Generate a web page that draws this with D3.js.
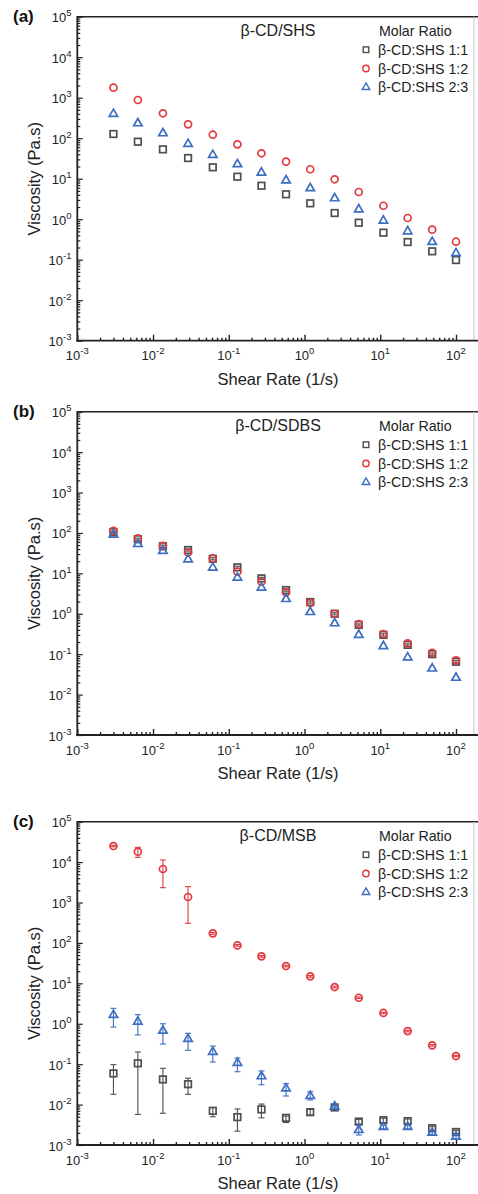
<!DOCTYPE html>
<html>
<head>
<meta charset="utf-8">
<script src="https://cdn.jsdelivr.net/npm/d3@7"></script>
<style>
  html, body { margin: 0; padding: 0; background: #fff; }
  svg { display: block; font-family: "Liberation Sans", Arial, sans-serif; }
</style>
</head>
<body>
<svg id="chart" width="478" height="1194"></svg>
<script>
// Shear rates (1/s) shared by every sweep
const shearRate = [0.003, 0.0063, 0.0135, 0.029, 0.0615, 0.13, 0.27, 0.57, 1.19, 2.5, 5.2, 11, 23, 48.5, 100];

const seriesNames = ["β-CD:SHS 1:1", "β-CD:SHS 1:2", "β-CD:SHS 2:3"];
const panelTitles = ["β-CD/SHS", "β-CD/SDBS", "β-CD/MSB"];
const panelLetters = ["(a)", "(b)", "(c)"];
const xTickExponents = [-3, -2, -1, 0, 1, 2];
const yTickExponents = [-3, -2, -1, 0, 1, 2, 3, 4, 5];

// (a) β-CD/SHS viscosity (Pa.s)
const visA11 = [127, 82, 53, 32.4, 19.1, 11.2, 6.7, 4.12, 2.47, 1.42, 0.82, 0.465, 0.273, 0.161, 0.098];
const visA12 = [1766, 877, 412, 220, 122, 70.6, 42.4, 26.3, 17.1, 9.67, 4.7, 2.15, 1.07, 0.551, 0.278];
const visA23 = [396, 233, 132, 72, 38.5, 22.7, 14.1, 9.1, 5.8, 3.28, 1.75, 0.92, 0.5, 0.273, 0.144];

// (b) β-CD/SDBS viscosity (Pa.s)
const visB11 = [105, 70, 47, 37.8, 23, 14.1, 7.5, 3.86, 1.95, 1.0, 0.53, 0.3, 0.17, 0.1, 0.065];
const visB11Lo = [99, 66, 44, 35.5, 21.6, 13.2, 7.0, 3.62, 1.83, 0.94, 0.5, 0.28, 0.16, 0.094, 0.061];
const visB11Hi = [111, 74, 50, 40, 24.4, 15, 8.0, 4.1, 2.07, 1.06, 0.56, 0.32, 0.18, 0.106, 0.069];
const visB12 = [113, 73, 48, 33, 23.5, 11, 6.2, 3.39, 1.85, 1.0, 0.556, 0.315, 0.185, 0.108, 0.07];
const visB23 = [90, 53, 36, 22, 13.8, 7.8, 4.4, 2.31, 1.1, 0.58, 0.3, 0.158, 0.083, 0.044, 0.026];

// (c) β-CD/MSB viscosity (Pa.s) with error bounds
const visC11 = [0.059, 0.105, 0.042, 0.032, 0.007, 0.0049, 0.0076, 0.0047, 0.0065, 0.0085, 0.0038, 0.0041, 0.0039, 0.0026, 0.0021];
const visC11Lo = [0.018, 0.0057, 0.0061, 0.018, 0.005, 0.0022, 0.0047, 0.0036, 0.0055, 0.0078, 0.0033, 0.0036, 0.0034, 0.0023, 0.0019];
const visC11Hi = [0.097, 0.2, 0.079, 0.045, 0.0085, 0.0078, 0.0103, 0.0052, 0.0076, 0.0092, 0.0043, 0.0046, 0.0044, 0.0029, 0.0023];
const visC12 = [25000, 18100, 6760, 1370, 173, 87, 46.6, 26.8, 14.9, 8.1, 4.4, 1.85, 0.66, 0.292, 0.159];
const visC12Lo = [24000, 13100, 2330, 306, 164, 83, 44.5, 25.6, 14.2, 7.7, 4.2, 1.77, 0.63, 0.28, 0.153];
const visC12Hi = [26000, 23300, 11300, 2470, 182, 91, 48.7, 28, 15.6, 8.5, 4.6, 1.93, 0.69, 0.304, 0.165];
const visC23 = [1.65, 1.13, 0.67, 0.42, 0.2, 0.107, 0.05, 0.025, 0.0163, 0.0089, 0.00234, 0.0028, 0.0028, 0.002, 0.0016];
const visC23Lo = [0.83, 0.53, 0.315, 0.22, 0.113, 0.065, 0.031, 0.0163, 0.013, 0.0082, 0.00177, 0.0025, 0.0025, 0.0018, 0.0014];
const visC23Hi = [2.41, 1.68, 1.0, 0.58, 0.28, 0.142, 0.068, 0.033, 0.0208, 0.0096, 0.0031, 0.0031, 0.0031, 0.0022, 0.0018];

const colors = ["#4f4f4f", "#e23a3f", "#3d6ec1"];
const shapes = ["square", "circle", "triangle"];

const panels = [
  { top: 16.7, bottom: 340.7, series: [
      { v: visA11 }, { v: visA12 }, { v: visA23 } ] },
  { top: 411.7, bottom: 735, series: [
      { v: visB11, lo: visB11Lo, hi: visB11Hi }, { v: visB12 }, { v: visB23 } ] },
  { top: 821.7, bottom: 1145, series: [
      { v: visC11, lo: visC11Lo, hi: visC11Hi },
      { v: visC12, lo: visC12Lo, hi: visC12Hi },
      { v: visC23, lo: visC23Lo, hi: visC23Hi } ] }
];

const svg = d3.select("#chart");
const left = 77.3, frameRight = 478, grayEdge = 474;
const x = d3.scaleLog().domain([1e-3, 1e2]).range([left, 456]);

function marker(g, shape, cx, cy, s, color, sw) {
  if (shape === "square") {
    g.append("rect").attr("x", cx - s / 2).attr("y", cy - s / 2)
      .attr("width", s).attr("height", s)
      .attr("fill", "none").attr("stroke", color).attr("stroke-width", sw);
  } else if (shape === "circle") {
    g.append("circle").attr("cx", cx).attr("cy", cy).attr("r", s / 2)
      .attr("fill", "none").attr("stroke", color).attr("stroke-width", sw);
  } else {
    const h = s * Math.sqrt(3) / 2;
    const p = d3.path();
    p.moveTo(cx, cy - h * 2 / 3);
    p.lineTo(cx + s / 2, cy + h / 3);
    p.lineTo(cx - s / 2, cy + h / 3);
    p.closePath();
    g.append("path").attr("d", p.toString())
      .attr("fill", "none").attr("stroke", color).attr("stroke-width", sw)
      .attr("stroke-linejoin", "miter");
  }
}

function powLabel(sel, exp) {
  sel.append("tspan").text("10");
  sel.append("tspan").attr("dy", -6).attr("font-size", 9.5).text(exp < 0 ? "-" + (-exp) : exp);
}

panels.forEach((pan, pi) => {
  const y = d3.scaleLog().domain([1e-3, 1e5]).range([pan.bottom, pan.top]);
  const g = svg.append("g");

  // frame: top line, faint right edge, bottom and left axes
  g.append("line").attr("x1", left).attr("x2", frameRight)
    .attr("y1", pan.top).attr("y2", pan.top)
    .attr("stroke", "#222").attr("stroke-width", 1.6);
  g.append("line").attr("x1", grayEdge).attr("x2", grayEdge)
    .attr("y1", pan.top).attr("y2", pan.bottom)
    .attr("stroke", "#c8c8c8").attr("stroke-width", 1);

  // x axis (ticks pointing inward)
  const xMinor = [];
  xTickExponents.slice(0, -1).forEach(e => { for (let k = 2; k <= 9; k++) xMinor.push(k * Math.pow(10, e)); });
  const xAxisMinor = d3.axisTop(x).tickValues(xMinor).tickSize(3).tickFormat("");
  const xAxisMajor = d3.axisTop(x).tickValues(xTickExponents.map(e => Math.pow(10, e))).tickSize(6).tickFormat("");
  [xAxisMinor, xAxisMajor].forEach(ax => {
    const a = g.append("g").attr("transform", `translate(0,${pan.bottom})`).call(ax);
    a.select(".domain").remove();
    a.selectAll(".tick line").attr("stroke", "#222").attr("stroke-width", 1.4);
  });
  g.append("line").attr("x1", left - 1).attr("x2", frameRight)
    .attr("y1", pan.bottom).attr("y2", pan.bottom)
    .attr("stroke", "#222").attr("stroke-width", 1.8);
  xTickExponents.forEach(e => {
    const t = g.append("text").attr("x", x(Math.pow(10, e))).attr("y", pan.bottom + 19.5)
      .attr("text-anchor", "middle").attr("font-size", 13).attr("fill", "#222");
    powLabel(t, e);
  });

  // y axis (ticks pointing inward)
  const yMinor = [];
  yTickExponents.slice(0, -1).forEach(e => { for (let k = 2; k <= 9; k++) yMinor.push(k * Math.pow(10, e)); });
  const yAxisMinor = d3.axisRight(y).tickValues(yMinor).tickSize(3).tickFormat("");
  const yAxisMajor = d3.axisRight(y).tickValues(yTickExponents.map(e => Math.pow(10, e))).tickSize(5.5).tickFormat("");
  [yAxisMinor, yAxisMajor].forEach(ax => {
    const a = g.append("g").attr("transform", `translate(${left},0)`).call(ax);
    a.select(".domain").remove();
    a.selectAll(".tick line").attr("stroke", "#222").attr("stroke-width", 1.2);
  });
  g.append("line").attr("x1", left).attr("x2", left)
    .attr("y1", pan.top - 0.8).attr("y2", pan.bottom + 0.9)
    .attr("stroke", "#222").attr("stroke-width", 1.8);
  yTickExponents.forEach(e => {
    const t = g.append("text").attr("x", 71.5).attr("y", y(Math.pow(10, e)) + 5.5)
      .attr("text-anchor", "end").attr("font-size", 13).attr("fill", "#222");
    powLabel(t, e);
  });

  // axis titles
  g.append("text").attr("x", 278).attr("y", pan.bottom + 44)
    .attr("text-anchor", "middle").attr("font-size", 16.5).attr("fill", "#222")
    .text("Shear Rate (1/s)");
  g.append("text")
    .attr("transform", `translate(40,${(pan.top + pan.bottom) / 2}) rotate(-90)`)
    .attr("text-anchor", "middle").attr("font-size", 16.5).attr("fill", "#222")
    .text("Viscosity (Pa.s)");

  // panel letter and title
  g.append("text").attr("x", 13).attr("y", pan.top + 5.5)
    .attr("font-size", 17).attr("font-weight", "bold").attr("fill", "#111")
    .text(panelLetters[pi]);
  g.append("text").attr("x", 278).attr("y", pan.top + 19)
    .attr("text-anchor", "middle").attr("font-size", 16).attr("fill", "#222")
    .text(panelTitles[pi]);

  // legend
  g.append("text").attr("x", 379).attr("y", pan.top + 19)
    .attr("font-size", 14.2).attr("fill", "#222").text("Molar Ratio");
  seriesNames.forEach((name, si) => {
    const ly = pan.top + 33 + si * 18.8;
    marker(g, shapes[si], 366, ly, si === 2 ? 7.5 : (si === 1 ? 6.4 : 5.6), colors[si], 1.4);
    g.append("text").attr("x", 378).attr("y", ly + 5)
      .attr("font-size", 14.2).attr("fill", "#222").text(name);
  });

  // error bars then markers for each series
  pan.series.forEach((s, si) => {
    const sg = g.append("g");
    if (s.lo) {
      shearRate.forEach((xv, i) => {
        const cx = x(xv), y1 = y(s.lo[i]), y2 = y(s.hi[i]);
        sg.append("line").attr("x1", cx).attr("x2", cx).attr("y1", y1).attr("y2", y2)
          .attr("stroke", colors[si]).attr("stroke-width", 1.1);
        [y1, y2].forEach(yy => sg.append("line").attr("x1", cx - 3).attr("x2", cx + 3)
          .attr("y1", yy).attr("y2", yy).attr("stroke", colors[si]).attr("stroke-width", 1.1));
      });
    }
    shearRate.forEach((xv, i) => {
      const size = shapes[si] === "triangle" ? 8.4 : (shapes[si] === "circle" ? 7 : 6.6);
      marker(sg, shapes[si], x(xv), y(s.v[i]), size, colors[si], 1.7);
    });
  });
});
</script>
</body>
</html>
